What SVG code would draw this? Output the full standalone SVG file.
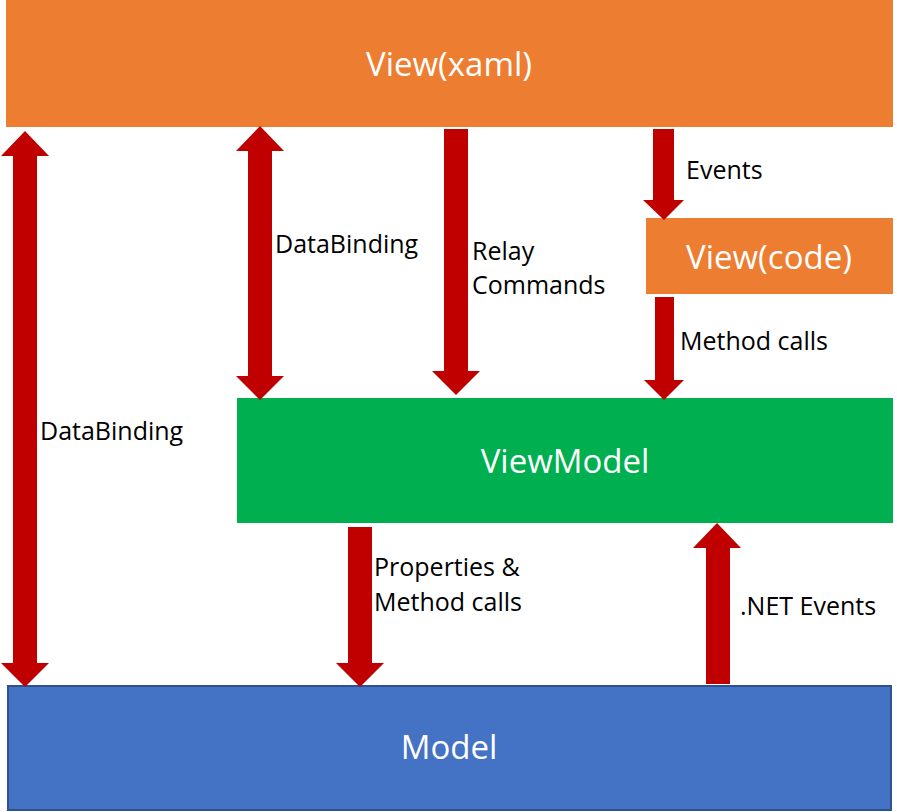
<svg xmlns="http://www.w3.org/2000/svg" width="897" height="812" viewBox="0 0 897 812">
<style>
.big{font-family:"Open Sans","Liberation Sans",sans-serif;font-size:33px;fill:#fff;text-anchor:middle}
.lbl{font-family:"Open Sans","Liberation Sans",sans-serif;font-size:25px;fill:#000}
.arr{fill:#C00000}
</style>
<rect width="897" height="812" fill="#fff"/>
<g id="view-xaml">
<rect x="6" y="0" width="887" height="127" fill="#ED7D31"/>
<text class="big" x="449" y="76">View(xaml)</text>
</g>
<g id="view-code">
<rect x="646" y="218" width="247" height="76" fill="#ED7D31"/>
<text class="big" x="769" y="269">View(code)</text>
</g>
<g id="viewmodel">
<rect x="237" y="398" width="656" height="125" fill="#00B050"/>
<text class="big" x="565" y="473">ViewModel</text>
</g>
<g id="model">
<rect x="8" y="686" width="883" height="124" fill="#4472C4" stroke="#2F528F" stroke-width="2"/>
<text class="big" x="449" y="759">Model</text>
</g>
<g id="connectors">
<polygon class="arr" points="25,131 49,156 37,156 37,663 49,663 25,687 1,663 13,663 13,156 1,156"/>
<polygon class="arr" points="260,126 284,151 272,151 272,376 284,376 260,400 236,376 248,376 248,151 236,151"/>
<polygon class="arr" points="444,129 468,129 468,371 480,371 456,395 432,371 444,371"/>
<polygon class="arr" points="653,129 674,129 674,200 684,200 664,220 643,200 653,200"/>
<polygon class="arr" points="655,297 674,297 674,380 684,380 664,400 644,380 655,380"/>
<polygon class="arr" points="348,527 372,527 372,663 384,663 360,687 336,663 348,663"/>
<polygon class="arr" points="717,523 741,548 730,548 730,684 706,684 706,548 693,548"/>
<text class="lbl" x="686" y="179">Events</text>
<text class="lbl" x="275" y="253">DataBinding</text>
<text class="lbl" x="472" y="260">Relay</text>
<text class="lbl" x="472" y="294">Commands</text>
<text class="lbl" x="680" y="350">Method calls</text>
<text class="lbl" x="40" y="440">DataBinding</text>
<text class="lbl" x="374" y="576">Properties &amp;</text>
<text class="lbl" x="374" y="611">Method calls</text>
<text class="lbl" x="740" y="615">.NET Events</text>
</g>
</svg>
